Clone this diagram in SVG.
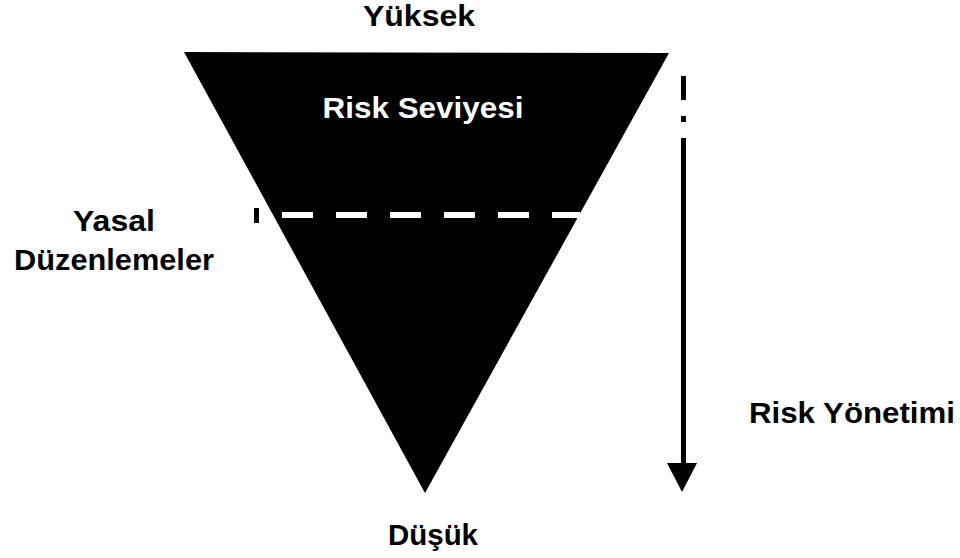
<svg xmlns="http://www.w3.org/2000/svg" width="960" height="558" viewBox="0 0 960 558">
  <style>
    .lbl { font-family: "Liberation Sans", Arial, sans-serif; font-weight: bold; font-size: 29px; fill: #000; }
    .inv { fill: #fff; }
  </style>
  <rect x="0" y="0" width="960" height="558" fill="#fff"/>
  <g id="risk-triangle">
    <polygon points="184,52 669,53 425,493" fill="#000"/>
    <text class="lbl inv" x="423" y="118" text-anchor="middle" textLength="201" lengthAdjust="spacingAndGlyphs">Risk Seviyesi</text>
  </g>
  <g id="yasal-line">
    <line x1="282" y1="215" x2="580" y2="215" stroke="#fff" stroke-width="6" stroke-dasharray="31 23"/>
    <rect x="254" y="208" width="5" height="15" fill="#000"/>
  </g>
  <g id="label-yuksek">
    <text class="lbl" x="419" y="26" text-anchor="middle" textLength="112" lengthAdjust="spacingAndGlyphs">Yüksek</text>
  </g>
  <g id="label-yasal">
    <text class="lbl" x="114" y="231" text-anchor="middle" textLength="82" lengthAdjust="spacingAndGlyphs">Yasal</text>
    <text class="lbl" x="114" y="270" text-anchor="middle" textLength="200" lengthAdjust="spacingAndGlyphs">Düzenlemeler</text>
  </g>
  <g id="label-risk-yonetimi">
    <text class="lbl" x="852" y="423" text-anchor="middle" textLength="206" lengthAdjust="spacingAndGlyphs">Risk Yönetimi</text>
  </g>
  <g id="label-dusuk">
    <text class="lbl" x="433" y="545" text-anchor="middle" textLength="90" lengthAdjust="spacingAndGlyphs">Düşük</text>
  </g>
  <g id="connectors">
    <line x1="683.5" y1="76" x2="683.5" y2="100" stroke="#000" stroke-width="5"/>
    <line x1="683.5" y1="116" x2="683.5" y2="122" stroke="#000" stroke-width="5"/>
    <line x1="683.5" y1="138" x2="683.5" y2="465" stroke="#000" stroke-width="5"/>
    <polygon points="667,463 697,463 682,492" fill="#000"/>
  </g>
</svg>
